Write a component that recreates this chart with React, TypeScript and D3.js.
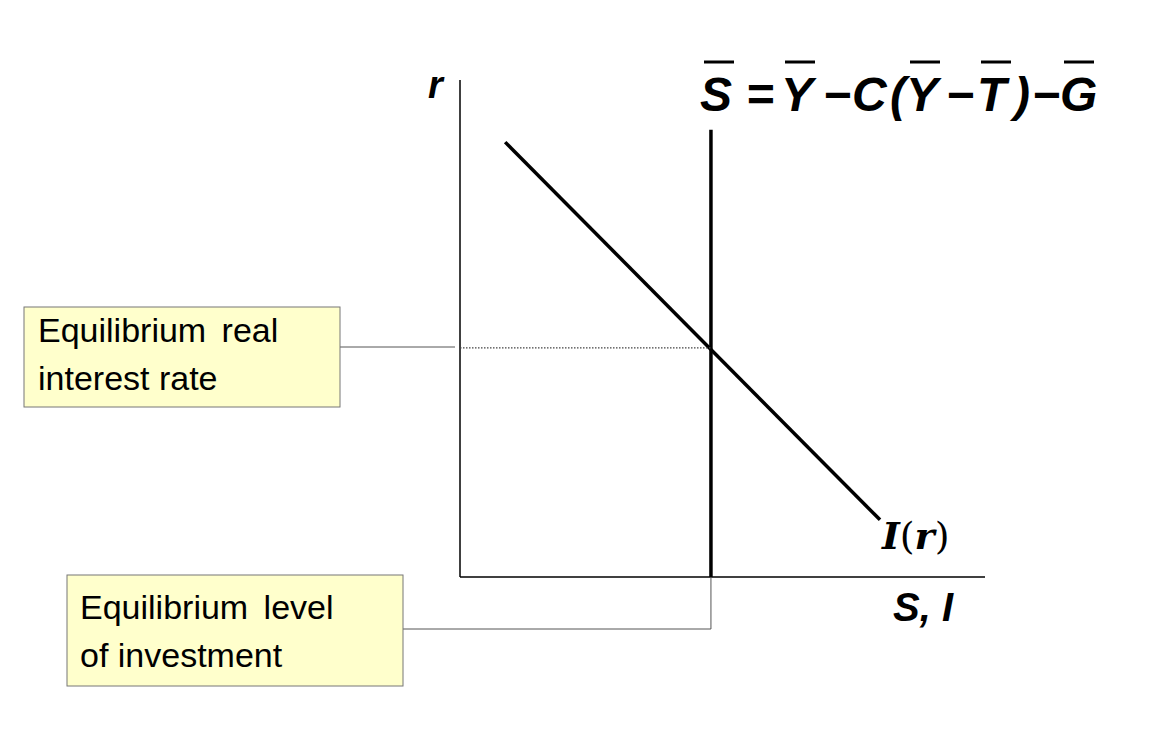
import React from 'react';
import * as d3 from 'd3';

// data units on both axes
const investmentLine = [
  { s: 0.86, r: 8.75 },
  { s: 8.0, r: 1.15 },
];
const savingLevel = 4.78;
const equilibriumRate = 4.61;
const savingTop = 9.0;

// formula glyphs: text, x position (px), overbar?
const formulaGlyphs: [string, number, boolean][] = [
  ['S', 700, true], ['=', 746, false], ['Y', 781, true], ['−', 823, false],
  ['C', 852, false], ['(', 890, false], ['Y', 906, true], ['−', 946, false],
  ['T', 977, true], [')', 1014, false], ['−', 1032, false], ['G', 1060, true],
];

const boxFont = '"Liberation Sans", Arial, sans-serif';

export default function App() {
  const width = 1154, height = 746;
  const x = d3.scaleLinear().domain([0, 10]).range([460, 985]);
  const y = d3.scaleLinear().domain([0, 10]).range([577, 80]);
  const line = d3.line<{ s: number; r: number }>().x(d => x(d.s)).y(d => y(d.r));
  const sx = x(savingLevel), ey = y(equilibriumRate);

  return (
    <svg width={width} height={height} style={{ display: 'block', margin: -8, background: '#fff' }}>
      {/* axes */}
      <line x1={x(0)} y1={y(10)} x2={x(0)} y2={y(0)} stroke="#000" strokeWidth={1.5} />
      <line x1={x(0)} y1={y(0)} x2={x(10)} y2={y(0)} stroke="#000" strokeWidth={1.5} />
      <text x={428} y={98} fontFamily={boxFont} fontWeight="bold" fontStyle="italic" fontSize={38}>r</text>
      <text x={893} y={621} fontFamily={boxFont} fontWeight="bold" fontStyle="italic" fontSize={40}>S, I</text>

      {/* saving line */}
      <line x1={sx} y1={y(savingTop)} x2={sx} y2={y(0)} stroke="#000" strokeWidth={3.5} />
      {/* investment */}
      <path d={line(investmentLine) ?? ''} stroke="#000" strokeWidth={3.5} fill="none" />
      <text x={x(8.0) + 2} y={y(1.15) + 29} fontFamily="'DejaVu Serif', serif" fontWeight="bold" fontStyle="italic" fontSize={38}>
        I<tspan fontWeight="normal" fontStyle="normal">(</tspan>r<tspan fontWeight="normal" fontStyle="normal">)</tspan>
      </text>

      {/* equilibrium dotted */}
      <line x1={x(0)} y1={ey} x2={sx} y2={ey} stroke="#444" strokeWidth={1.2} strokeDasharray="1.5 1.5" />

      {/* formula */}
      {formulaGlyphs.map(([t, gx, bar], i) => (
        <g key={i}>
          <text x={gx} y={111} fontFamily={boxFont} fontWeight="bold" fontStyle="italic" fontSize={48}>{t}</text>
          {bar && <line x1={gx + 4} x2={gx + 34} y1={62} y2={62} stroke="#000" strokeWidth={3} />}
        </g>
      ))}

      {/* callout 1 */}
      <line x1={340} y1={347} x2={455} y2={347} stroke="#555" strokeWidth={1} />
      <rect x={24} y={307} width={316} height={100} fill="#ffffcc" stroke="#777" strokeWidth={1} />
      <text x={38} y={342} fontFamily={boxFont} fontSize={34} wordSpacing={6}>Equilibrium real</text>
      <text x={38} y={390} fontFamily={boxFont} fontSize={34}>interest rate</text>

      {/* callout 2 */}
      <polyline points={`403,629 ${sx},629 ${sx},${y(0)}`} fill="none" stroke="#555" strokeWidth={1} />
      <rect x={67} y={575} width={336} height={111} fill="#ffffcc" stroke="#777" strokeWidth={1} />
      <text x={80} y={619} fontFamily={boxFont} fontSize={34} wordSpacing={6}>Equilibrium level</text>
      <text x={80} y={667} fontFamily={boxFont} fontSize={34}>of investment</text>
    </svg>
  );
}
